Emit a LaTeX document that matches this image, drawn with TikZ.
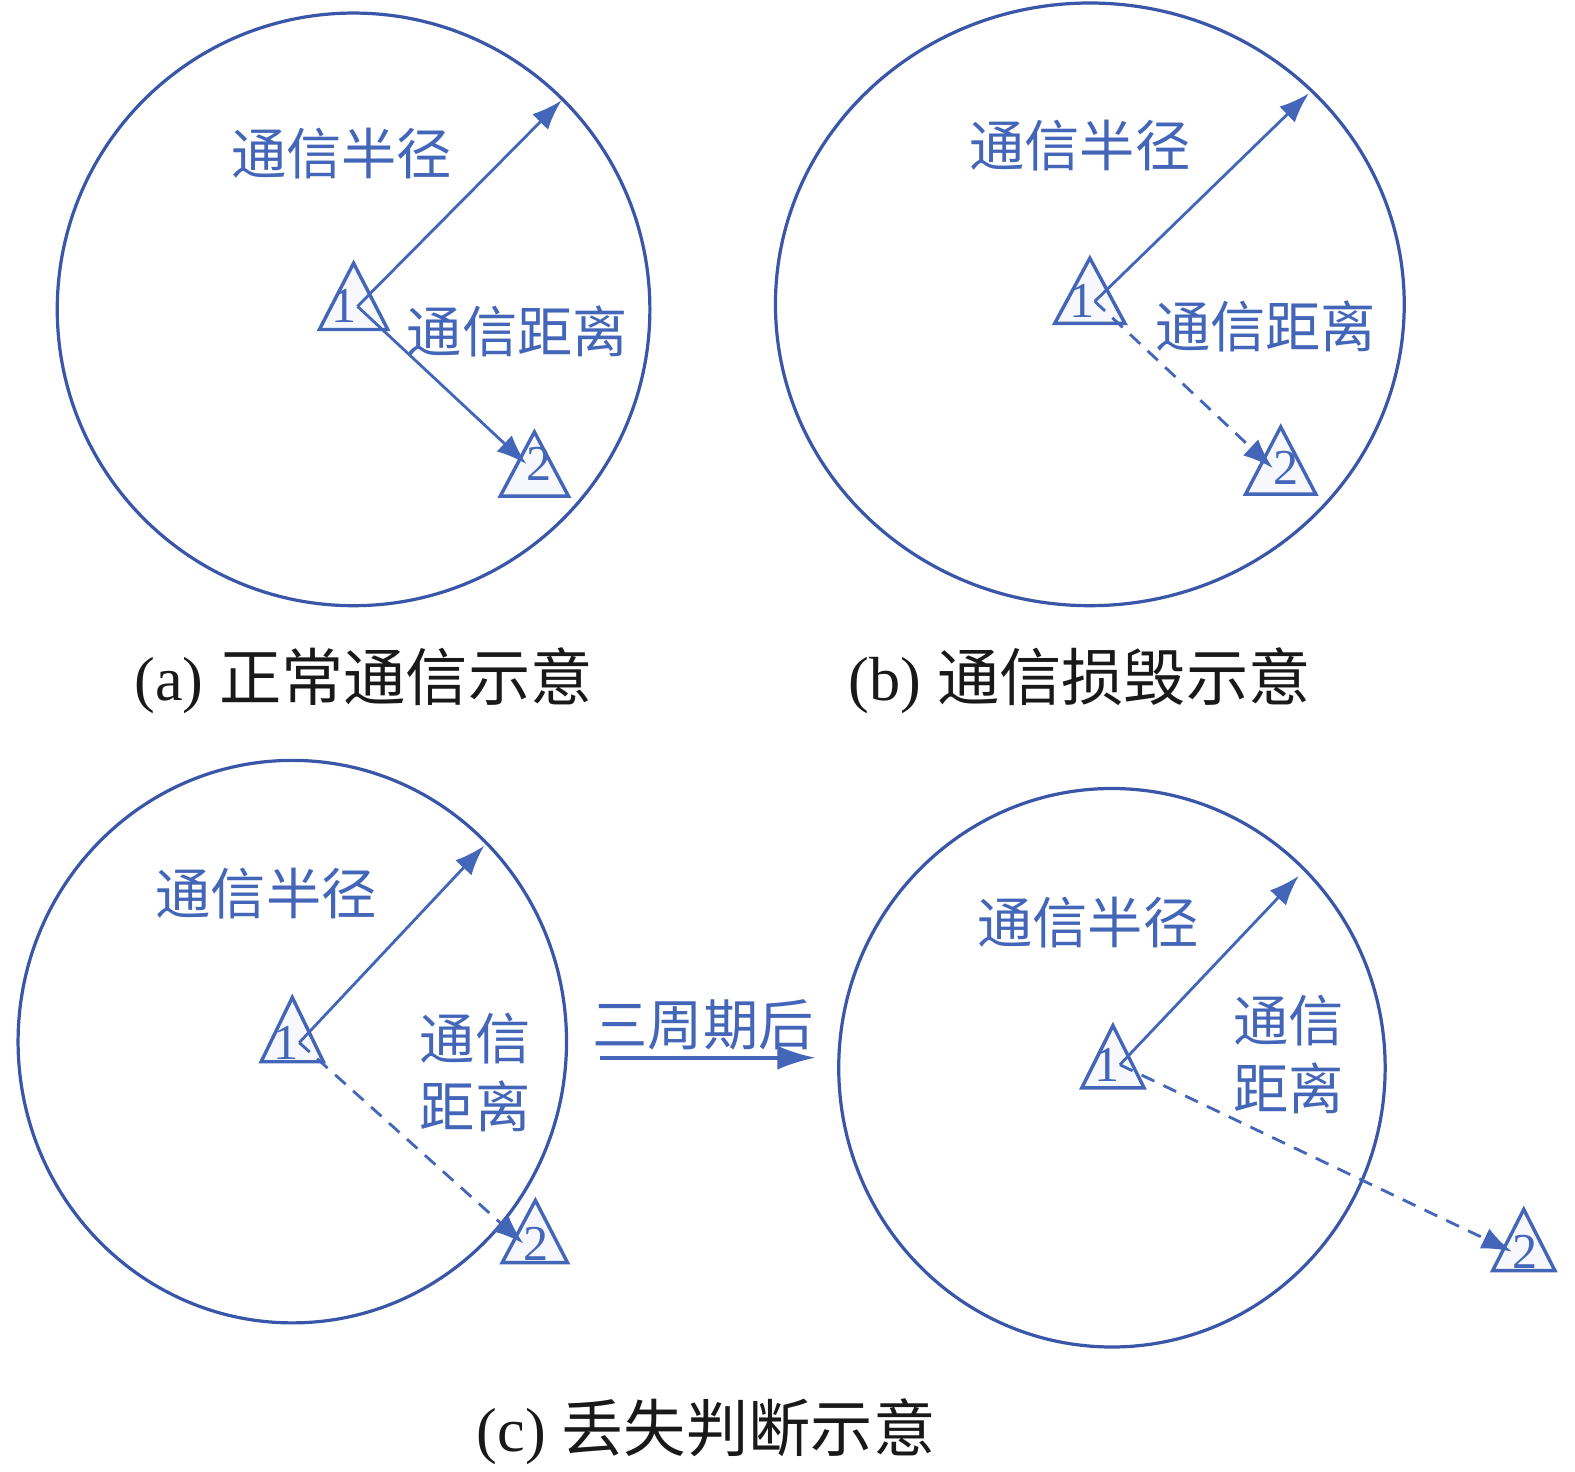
\documentclass[tikz,border=0pt]{standalone}
\usepackage{fontspec}
\setmainfont{Liberation Serif}
\newfontfamily\cjk{Noto Sans CJK SC}
\usetikzlibrary{arrows.meta,calc}
\definecolor{bl}{RGB}{68,102,184}
\definecolor{cl}{RGB}{58,86,168}
\definecolor{trif}{RGB}{246,248,253}
\definecolor{capcol}{RGB}{25,25,25}
\begin{document}
\begin{tikzpicture}[x=0.5pt,y=-0.5pt,
  ring/.style={draw=cl, line width=1.6pt},
  tri/.style={draw=bl, line width=1.7pt, fill=trif, line join=miter},
  num/.style={text=bl, font=\fontsize{25}{25}\selectfont, inner sep=0pt},
  lab/.style={text=bl, font=\cjk\fontsize{27.5}{34}\selectfont, inner sep=0pt, align=center},
  captxt/.style={text=capcol, font=\fontsize{31}{31}\selectfont, inner sep=0pt},
  link/.style={draw=bl, line width=1.4pt, -{Latex[length=15pt,width=11pt]}},
  dlink/.style={link, dash pattern=on 7pt off 5pt}]
\useasboundingbox (0,0) rectangle (1568,1465);

% ---------------- (a)
\draw[ring] (352,308) circle [radius=295];
\draw[tri] (352,262) -- (386,328) -- (318,328) -- cycle;
\draw[tri] (532,430) -- (566,494) -- (498,494) -- cycle;
\node[num] (a1) at (343,305) {1};
\node[num] (a2) at (537,462) {2};
\coordinate (ar) at (559,100);
\draw[link] (a1.east) -- (ar);
\draw[link] (a1.east) -- (a2.west);
\node[lab] (aR) at (340,153) {通信半径};
\node[lab] (aD) at (515,330) {通信距离};
\node[captxt] (capa) at (362,678) {(a) {\cjk 正常通信示意}};

% ---------------- (b)
\draw[ring] (1085,303) ellipse [x radius=313, y radius=300];
\draw[tri] (1085,257) -- (1120,322) -- (1050,322) -- cycle;
\draw[tri] (1275,425) -- (1310,492) -- (1240,492) -- cycle;
\node[num] (b1) at (1077,300) {1};
\node[num] (b2) at (1280,466) {2};
\coordinate (br) at (1303,93);
\draw[link] (b1.east) -- (br);
\draw[dlink] (b1.east) -- (b2.west);
\node[lab] (bR) at (1075,145) {通信半径};
\node[lab] (bD) at (1260,325) {通信距离};
\node[captxt] (capb) at (1075,678) {(b) {\cjk 通信损毁示意}};

% ---------------- (c) left
\draw[ring] (291,1037) ellipse [x radius=273, y radius=280];
\draw[tri] (291,993) -- (322,1057) -- (260,1057) -- cycle;
\draw[tri] (533,1195) -- (565,1257) -- (500,1257) -- cycle;
\node[num] (c1) at (285,1038) {1};
\node[num] (c2) at (534,1238) {2};
\coordinate (cr) at (482,842);
\draw[link] (c1.east) -- (cr);
\draw[dlink] (c1.east) -- (c2.west);
\node[lab] (cR) at (265,890) {通信半径};
\node[lab] (cD) at (473,1068) {通信\\距离};

% middle arrow
\node[lab] (mid) at (700,1020) {三周期后};
\coordinate (ms) at (597,1053);
\coordinate (me) at (812,1053);
\draw[draw=bl, line width=1.9pt, -{Latex[length=19pt,width=12pt]}] (ms) -- (me);

% ---------------- (c) right
\draw[ring] (1107,1063) ellipse [x radius=272, y radius=278];
\draw[tri] (1108,1021) -- (1139,1083) -- (1077,1083) -- cycle;
\draw[tri] (1517,1204) -- (1548,1265) -- (1486,1265) -- cycle;
\node[num] (d1) at (1102,1060) {1};
\node[num] (d2) at (1518,1246) {2};
\coordinate (dr) at (1293,872);
\draw[link] (d1.east) -- (dr);
\draw[dlink] (d1.east) -- (d2.west);
\node[lab] (dR) at (1083,918) {通信半径};
\node[lab] (dD) at (1283,1050) {通信\\距离};

\node[captxt] (capcc) at (703,1425) {(c) {\cjk 丢失判断示意}};
\end{tikzpicture}
\end{document}
